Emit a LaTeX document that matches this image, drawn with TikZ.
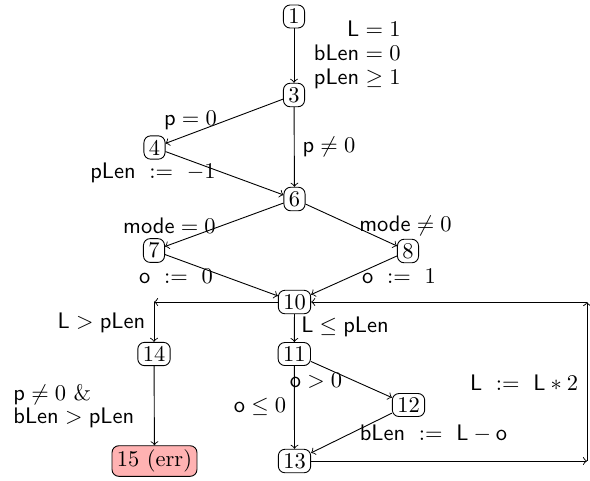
\documentclass[tikz,border=0pt]{standalone}
\usetikzlibrary{arrows}
\begin{document}
\begin{tikzpicture}[x=0.445pt,y=-0.445pt,
  st/.style={draw,rounded corners=3pt,inner xsep=2.2pt,inner ysep=1.8pt,line width=0.4pt},
  errst/.style={st,fill=red!30},
  lab/.style={inner sep=0pt},
  edge/.style={->,line width=0.4pt}]
\useasboundingbox (0,0) rectangle (590,480);
% states
\node[st] (n1) at (294,16.5) {1};
\node[st] (n3) at (294,95) {3};
\node[st] (n4) at (154.5,147.5) {4};
\node[st] (n6) at (294.5,199) {6};
\node[st] (n7) at (154,250.5) {7};
\node[st] (n8) at (408,251) {8};
\node[st] (n10) at (294.5,302) {10};
\node[st] (n14) at (154,354) {14};
\node[st] (n11) at (294.3,354) {11};
\node[st] (n12) at (408.5,405) {12};
\node[st] (n13) at (294.5,461) {13};
\node[errst] (n15) at (154.5,461) {15 (err)};
\coordinate (cL) at (154,302);
\coordinate (cR1) at (587,461);
\coordinate (cR2) at (587,302);
% connectors
\draw[edge] (n1) -- (n3);
\draw[edge] (n3) -- (n4);
\draw[edge] (n3) -- (n6);
\draw[edge] (n4) -- (n6);
\draw[edge] (n6) -- (n7);
\draw[edge] (n6) -- (n8);
\draw[edge] (n7) -- (n10);
\draw[edge] (n8) -- (n10);
\draw[edge] (n10) -- (cL);
\draw[edge] (cL) -- (n14);
\draw[edge] (n10) -- (n11);
\draw[edge] (n11) -- (n12);
\draw[edge] (n11) -- (n13);
\draw[edge] (n12) -- (n13);
\draw[edge] (n14) -- (n15);
\draw[edge] (n13) -- (cR1);
\draw[edge] (cR1) -- (cR2);
\draw[edge] (cR2) -- (n10);
% labels
\node[lab,anchor=east,align=right] (init) at (401,55)
  {$\mathsf{L}=1$\\[-1.2pt]$\mathsf{bLen}=0$\\[-1.2pt]$\mathsf{pLen}\geq 1$};
\node[lab] (lp0) at (190.5,120.5) {$\mathsf{p}=0$};
\node[lab] (lpn0) at (329,146.5) {$\mathsf{p}\neq 0$};
\node[lab] (lplen) at (153,172.5) {$\mathsf{pLen}\ :=\ -1$};
\node[lab] (lm0) at (169.5,226) {$\mathsf{mode}=0$};
\node[lab] (lmn0) at (405.5,225.5) {$\mathsf{mode}\neq 0$};
\node[lab] (lo0) at (176,276) {$\mathsf{o}\ :=\ 0$};
\node[lab] (lo1) at (399,276) {$\mathsf{o}\ :=\ 1$};
\node[lab] (lgt) at (101.5,322.7) {$\mathsf{L}>\mathsf{pLen}$};
\node[lab] (lle) at (345,327) {$\mathsf{L}\leq\mathsf{pLen}$};
\node[lab] (logt) at (316,381) {$\mathsf{o}>0$};
\node[lab] (lole) at (260,407) {$\mathsf{o}\leq 0$};
\node[lab] (lblen) at (433.5,434) {$\mathsf{bLen}\ :=\ \mathsf{L}-\mathsf{o}$};
\node[lab] (lmul) at (524,383) {$\mathsf{L}\ :=\ \mathsf{L}*2$};
\node[lab,anchor=west,align=left] (lerr) at (13,406)
  {$\mathsf{p}\neq 0\ \&$\\[-1.8pt]$\mathsf{bLen}>\mathsf{pLen}$};
\end{tikzpicture}
\end{document}
